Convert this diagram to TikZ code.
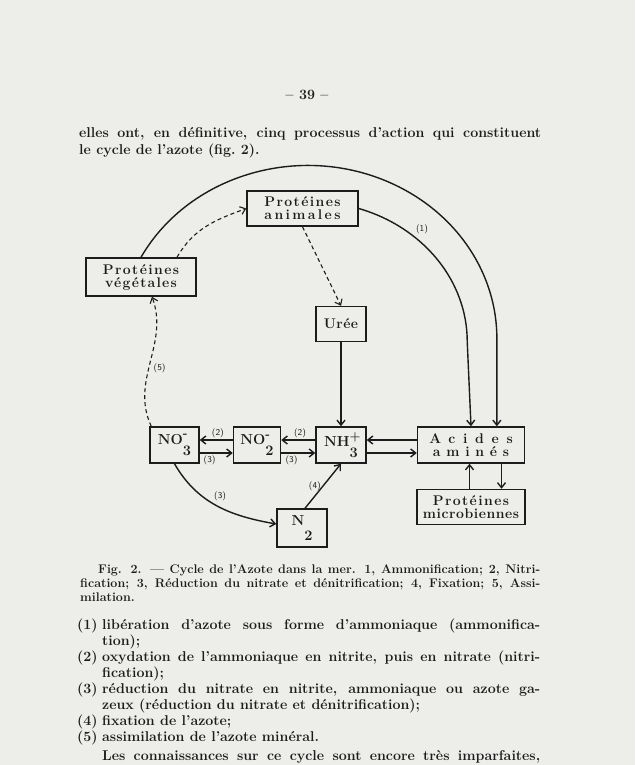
\documentclass[tikz,border=0pt]{standalone}
\usepackage{fontspec}
\setmainfont{Latin Modern Roman}
\usetikzlibrary{arrows.meta,positioning,calc}
\definecolor{Paper}{HTML}{EDEEEA}
\definecolor{Ink}{HTML}{1C1C1C}
\newcommand\bodyfont{\fontsize{14.2}{16}\selectfont\bfseries}
\newcommand\capfont{\fontsize{12.5}{14}\selectfont\bfseries}
\newcommand\boxfont{\fontsize{14}{13}\selectfont\bfseries}
\newcommand\ionfont{\fontsize{14.5}{14}\selectfont\bfseries}
\newcommand\spaced[2]{{\addfontfeatures{LetterSpace=#1}#2}}
\newcommand\ionlbl[4][11pt]{#2\makebox[0pt][l]{\raisebox{6.5pt}{\fontsize{12.5}{12}\selectfont #3}}\raisebox{-#1}{#4}}
\tikzset{
 box/.style={draw=Ink, line width=1.5pt, fill=Paper, inner sep=2pt, align=center, font=\boxfont, text=Ink},
 ionbox/.style={box, font=\ionfont, minimum height=36pt},
 arrow/.style={-{Straight Barb[length=5pt,width=8pt]}, line width=1.4pt, draw=Ink},
 dasharrow/.style={arrow, line width=1.1pt, dash pattern=on 4pt off 3pt},
 lbl/.style={font=\sffamily\fontsize{9}{9}\selectfont, text=Ink, inner sep=1.5pt},
 textline/.style={anchor=base west, inner sep=0pt, font=\bodyfont, text=Ink},
 capline/.style={textline, font=\capfont}
}
\begin{document}
\begin{tikzpicture}[x=1pt,y=1pt]
\fill[Paper] (0,0) rectangle (635,-765);
\useasboundingbox (0,0) rectangle (635,-765);
\node[textline, anchor=base] (pnum) at (307,-100) {-- 39 --};
\node[textline] (para1) at (79,-138) {\makebox[462pt][s]{elles ont, en définitive, cinq processus d'action qui constituent}};
\node[textline] (para2) at (79,-154) {le cycle de l'azote (fig.~2).};
\node[ionbox, minimum width=49pt] (no3) at (174.5,-445) {\ionlbl{NO}{-}{3}};
\node[ionbox, minimum width=47pt, right=33pt of no3] (no2) {\ionlbl{NO}{-}{2}};
\node[ionbox, minimum width=50pt, right=34pt of no2] (nh3) {\ionlbl{NH}{+}{3}};
\node[box, minimum width=107pt, minimum height=36pt, right=50pt of nh3] (acides) {\spaced{55}{Acides}\\\spaced{41}{aminés}};
\node[box, minimum width=108pt, minimum height=35pt, below=25pt of acides] (micro) {\spaced{10}{Protéines}\\\spaced{4}{microbiennes}};
\node[box, minimum width=50pt, minimum height=35pt, above=84pt of nh3] (uree) {\spaced{3}{Urée}};
\node[ionbox, minimum width=50pt, minimum height=38pt] (n2) at (302,-528) {\ionlbl[15pt]{N}{}{2}};
\node[box, minimum width=111pt, minimum height=35pt] (anim) at (302.5,-208.5) {\spaced{10}{Protéines}\\\spaced{17}{animales}};
\node[box, minimum width=110pt, minimum height=38pt] (veg) at (141,-277) {\spaced{10}{Protéines}\\\spaced{9}{végétales}};
\draw[arrow] (veg.north) arc[start angle=152, end angle=0, x radius=189, y radius=173] coordinate (outR) -- (outR |- acides.north);
\draw[arrow] (anim.east) arc[start angle=72, end angle=0, x radius=157, y radius=140] -- (acides.north);
\node[lbl] (l1) at (422,-229) {(1)};
\draw[dasharrow] ($(veg.north)+(36,0)$) to[out=60,in=200] (anim.west);
\draw[dasharrow] (anim.south) -- (uree.north);
\draw[arrow] (uree) -- (nh3);
\draw[dasharrow] ($(no3.north west)+(2,0)$) to[out=115,in=-70] node[lbl, right=3pt, pos=0.45] {(5)} ($(veg.south)+(11,0)$);
\draw[arrow] ([yshift=5pt]no2.west) -- node[lbl, above, pos=0.45] {(2)} ([yshift=5pt]no3.east);
\draw[arrow] ([yshift=-8pt]no3.east) -- node[lbl, below=1pt, pos=0.3] {(3)} ([yshift=-8pt]no2.west);
\draw[arrow] ([yshift=5pt]nh3.west) -- node[lbl, above, pos=0.45] {(2)} ([yshift=5pt]no2.east);
\draw[arrow] ([yshift=-8pt]no2.east) -- node[lbl, below=1pt, pos=0.3] {(3)} ([yshift=-8pt]nh3.west);
\draw[arrow] ([yshift=5pt]acides.west) -- ([yshift=5pt]nh3.east);
\draw[arrow] ([yshift=-8pt]nh3.east) -- ([yshift=-8pt]acides.west);
\draw[arrow] ([xshift=-1.5pt]micro.north) -- ([xshift=-1.5pt]acides.south);
\draw[arrow] ([xshift=30.5pt]acides.south) -- ([xshift=30.5pt]micro.north);
\draw[arrow] ($(n2.north)+(3,0)$) -- node[lbl, left, pos=0.5] {(4)} (nh3.south);
\draw[arrow] (no3.south) to[out=-60,in=170] node[lbl, above right, pos=0.45] {(3)} ($(n2.west)+(0,4)$);
\node[capline] (cap1) at (98,-573) {\makebox[442pt][s]{Fig. 2. --- Cycle de l'Azote dans la mer. 1, Ammonification; 2, Nitri-}};
\node[capline] (cap2) at (80,-587) {\makebox[460pt][s]{fication; 3, Réduction du nitrate et dénitrification; 4, Fixation; 5, Assi-}};
\node[capline] (cap3) at (80,-601) {milation.};
\node[textline] (n1) at (77,-629) {(1)};
\node[textline] (it1a) at (102,-629) {\makebox[438pt][s]{libération d'azote sous forme d'ammoniaque (ammonifica-}};
\node[textline] (it1b) at (102,-645) {tion);};
\node[textline] (n2lbl) at (77,-661) {(2)};
\node[textline] (it2a) at (102,-661) {\makebox[438pt][s]{oxydation de l'ammoniaque en nitrite, puis en nitrate (nitri-}};
\node[textline] (it2b) at (102,-677) {fication);};
\node[textline] (n3) at (77,-693) {(3)};
\node[textline] (it3a) at (102,-693) {\makebox[438pt][s]{réduction du nitrate en nitrite, ammoniaque ou azote ga-}};
\node[textline] (it3b) at (102,-709) {zeux (réduction du nitrate et dénitrification);};
\node[textline] (n4) at (77,-725) {(4)};
\node[textline] (it4) at (102,-725) {fixation de l'azote;};
\node[textline] (n5) at (77,-741) {(5)};
\node[textline] (it5) at (102,-741) {assimilation de l'azote minéral.};
\node[textline] (last) at (102,-760) {\makebox[438pt][s]{Les connaissances sur ce cycle sont encore très imparfaites,}};
\end{tikzpicture}
\end{document}
